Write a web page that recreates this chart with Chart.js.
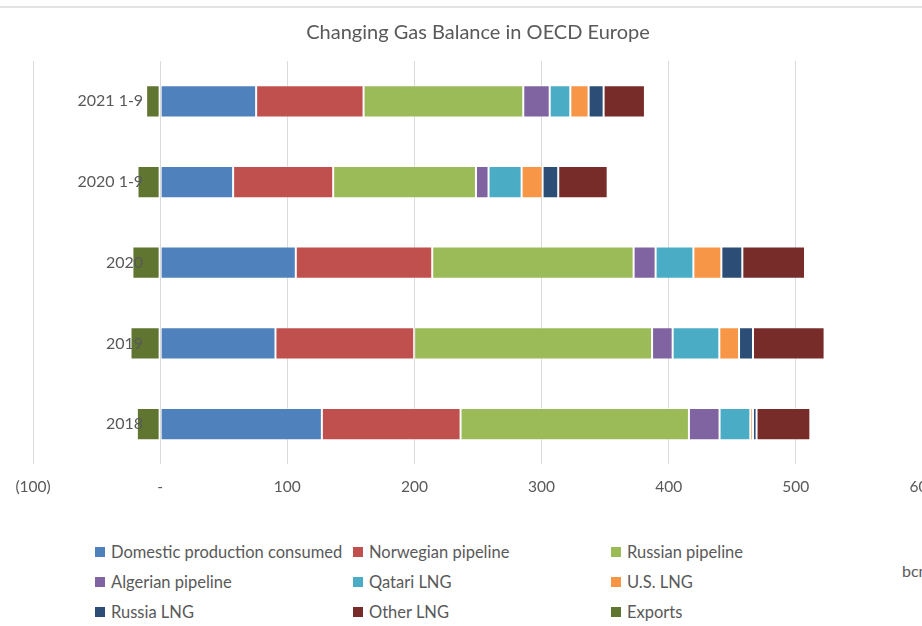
<!DOCTYPE html>
<html lang="en">
<head>
    <meta charset="UTF-8">
    <title>Changing Gas Balance in OECD Europe</title>
    <script src="https://cdn.jsdelivr.net/npm/chart.js"></script>
    <style>
        body {
            margin: 0;
            width: 922px;
            height: 626px;
            overflow: hidden;
            position: relative;
            background: #fff;
            font-family: Lato, "Open Sans", sans-serif;
            color: #595959;
        }
        #topRule {
            position: absolute;
            left: 0;
            top: 6px;
            width: 922px;
            height: 2px;
            background: #e3e3e3;
        }
        #gasChart {
            position: absolute;
            left: 0;
            top: 0;
        }
        .legend-item {
            position: absolute;
            font-size: 16.5px;
            line-height: 20px;
            white-space: nowrap;
            display: flex;
            align-items: center;
        }
        .legend-item span.box {
            display: inline-block;
            width: 10px;
            height: 10px;
            margin-right: 6px;
        }
        #unit {
            position: absolute;
            left: 902px;
            top: 561px;
            font-size: 16px;
            line-height: 20px;
        }
    </style>
</head>
<body>
    <div id="topRule"></div>
    <canvas id="gasChart" width="960" height="509"></canvas>
    <div id="legend"></div>
    <div id="unit">bcm</div>

    <script>
        // bcm by source, one value per period
        const periods = ['2021 1-9', '2020 1-9', '2020', '2019', '2018'];
        const domestic = [75.5, 57.4, 106.7, 90.7, 127.2];
        const norwegian = [84.5, 78.7, 107.3, 109.1, 109.1];
        const russian = [125.6, 112.3, 158.4, 187.1, 179.6];
        const algerian = [20.8, 9.9, 17.3, 16.2, 24.1];
        const qatari = [16.2, 26.0, 29.7, 36.7, 24.2];
        const usLng = [14.4, 16.5, 22.0, 15.5, 2.1];
        const russiaLng = [11.8, 12.3, 16.5, 11.0, 2.8];
        const otherLng = [32.5, 38.9, 49.3, 56.3, 42.3];
        const exportsOut = [-11.0, -17.8, -21.8, -23.3, -18.3];

        const textColor = '#595959';
        const fontFamily = 'Lato, "Open Sans", sans-serif';

        function series(label, data, color) {
            return {
                label: label,
                data: data,
                backgroundColor: color,
                borderColor: 'rgba(255,255,255,0.45)',
                borderWidth: 1,
                borderSkipped: false,
                barPercentage: 0.4,
                categoryPercentage: 1
            };
        }

        // category labels sit just left of the zero line, over the export bars
        const periodLabels = {
            id: 'periodLabels',
            afterDatasetsDraw(chart) {
                const ctx = chart.ctx;
                const x = chart.scales.x.getPixelForValue(0) - 17;
                ctx.save();
                ctx.font = '16px ' + fontFamily;
                ctx.fillStyle = textColor;
                ctx.textAlign = 'right';
                ctx.textBaseline = 'middle';
                periods.forEach((p, i) => {
                    ctx.fillText(p, x, chart.scales.y.getPixelForValue(i));
                });
                ctx.restore();
            }
        };

        const chart = new Chart(document.getElementById('gasChart'), {
            type: 'bar',
            data: {
                labels: periods,
                datasets: [
                    series('Domestic production consumed', domestic, '#4F81BD'),
                    series('Norwegian pipeline', norwegian, '#C0504D'),
                    series('Russian pipeline', russian, '#9BBB59'),
                    series('Algerian pipeline', algerian, '#8064A2'),
                    series('Qatari LNG', qatari, '#4BACC6'),
                    series('U.S. LNG', usLng, '#F79646'),
                    series('Russia LNG', russiaLng, '#2C4D75'),
                    series('Other LNG', otherLng, '#772C2A'),
                    series('Exports', exportsOut, '#5F7530')
                ]
            },
            options: {
                indexAxis: 'y',
                responsive: false,
                animation: false,
                layout: { padding: { left: 33, right: 37, top: 0, bottom: 0 } },
                plugins: {
                    legend: { display: false },
                    tooltip: { enabled: false },
                    title: {
                        display: true,
                        text: 'Changing Gas Balance in OECD Europe',
                        color: textColor,
                        font: { family: fontFamily, size: 20, weight: 'normal' },
                        padding: { top: 21, bottom: 16 }
                    }
                },
                scales: {
                    x: {
                        stacked: true,
                        min: -100,
                        max: 600,
                        ticks: {
                            stepSize: 100,
                            padding: 13,
                            color: textColor,
                            font: { family: fontFamily, size: 15.5 },
                            maxRotation: 0,
                            callback: v => v < 0 ? '(' + Math.abs(v) + ')' : (v === 0 ? '-' : String(v))
                        },
                        grid: { color: '#d9d9d9', drawTicks: false, tickLength: 0 },
                        border: { display: false }
                    },
                    y: {
                        stacked: true,
                        display: false
                    }
                }
            },
            plugins: [periodLabels]
        });

        // legend laid out in three columns
        const colX = [95, 353, 611];
        const rowY = [552, 582, 612];
        const legendEl = document.getElementById('legend');
        chart.data.datasets.forEach((ds, i) => {
            const item = document.createElement('div');
            item.className = 'legend-item';
            item.style.left = colX[i % 3] + 'px';
            item.style.top = (rowY[Math.floor(i / 3)] - 10) + 'px';
            const box = document.createElement('span');
            box.className = 'box';
            box.style.background = ds.backgroundColor;
            item.appendChild(box);
            item.appendChild(document.createTextNode(ds.label));
            legendEl.appendChild(item);
        });
    </script>
</body>
</html>
